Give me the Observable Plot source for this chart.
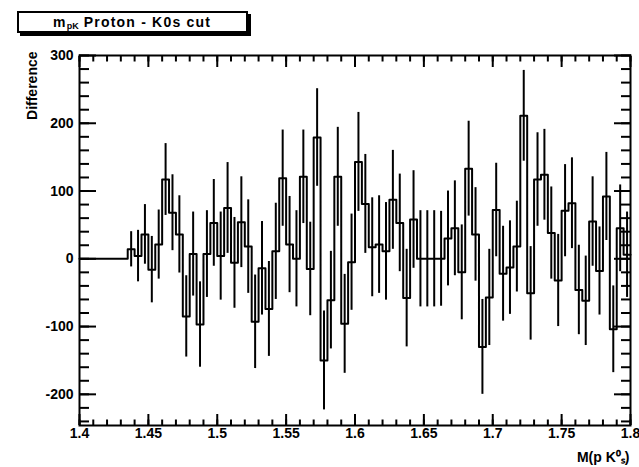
<!DOCTYPE html>
<html><head><meta charset="utf-8">
<script src="https://cdn.jsdelivr.net/npm/d3@7"></script>
<script src="https://cdn.jsdelivr.net/npm/@observablehq/plot@0.6"></script>
<style>
body{margin:0;background:#fff;}
#wrap{position:relative;width:639px;height:467px;}
#title{position:absolute;left:17px;top:11px;width:227px;height:18px;border:2px solid #000;box-shadow:3px 3px 0 #000;background:#fff;font:bold 14px "Liberation Sans",Arial,sans-serif;line-height:18px;text-align:left;padding-left:0;color:#000;z-index:2;letter-spacing:1.2px;white-space:nowrap;}
#title span{position:absolute;left:34px;}
#title sub{font-size:9px;vertical-align:-2px;letter-spacing:0;}
</style></head><body><div id="wrap"><div id="title"><span>m<sub>pK</sub> Proton - K0s cut</span></div><div id="chart"></div></div>
<script>
// histogram: 80 bins of width 0.005 from 1.4 to 1.8
const binStart = 1.4;
const binWidth = 0.005;
const counts = [0,0,0,0,0,0,0,
  14,4,36,-16,21,117,68,36,-85,7,-97,7,53,4,75,-6,54,18,-93,-14,-74,11,119,21,0,121,-15,179,-150,-61,
  121,-96,-5,143,81,17,21,11,87,53,-58,58,0,0,0,0,30,45,-20,133,36,-130,-57,72,-22,-13,18,211,-51,117,
  124,38,-32,71,82,-46,-62,55,-18,92,-104,45,6];
const errors = [0,0,0,0,0,0,0,
  26,38,44,49,51,53,56,57,60,62,63,64,64,65,67,67,67,69,69,69,70,71,71,71,71,69,69,72,73,72,
  73,73,71,73,73,73,72,72,73,72,72,72,71,71,71,70,70,70,70,70,69,70,71,69,70,69,67,67,69,69,
  67,68,68,68,67,66,66,66,65,65,64,64,63];
const xTicks = [1.4,1.45,1.5,1.55,1.6,1.65,1.7,1.75,1.8];
const xTickLabels = ["1.4","1.45","1.5","1.55","1.6","1.65","1.7","1.75","1.8"];
const yTicks = [-200,-100,0,100,200,300];
const yTickLabels = ["-200","-100","0","100","200","300"];
const titleX = "M(p K\u2070\u209B)";
const titleY = "Difference";

const bins = counts.map((v, i) => ({
  x0: binStart + i * binWidth,
  xc: binStart + (i + 0.5) * binWidth,
  v, e: errors[i]
}));
const steps = bins.map(b => ({x: b.x0, y: b.v}));
steps.push({x: binStart + counts.length * binWidth, y: counts[counts.length - 1]});
const xMinor = d3.range(0, 41).map(k => 1.4 + k * 0.01);
const yMinor = d3.range(-12, 16).map(k => k * 20);

const font = {fontSize: 14, fontWeight: "bold"};
const chart = Plot.plot({
  width: 639, height: 467,
  marginLeft: 79, marginRight: 9, marginTop: 55, marginBottom: 42,
  style: {fontFamily: "Liberation Sans, Arial, sans-serif", fontSize: "14px", fontWeight: "bold", color: "#000", background: "#fff", overflow: "visible"},
  x: {domain: [1.4, 1.8]},
  y: {domain: [-246, 300]},
  marks: [
    Plot.line(steps, {x: "x", y: "y", curve: "step-after", stroke: "#000", strokeWidth: 2}),
    Plot.ruleX(bins.filter(b => b.e > 0), {x: "xc", y1: b => b.v - b.e, y2: b => b.v + b.e, stroke: "#000", strokeWidth: 2}),
    Plot.axisX(xTicks, {anchor: "bottom", tickSize: -11, tickPadding: 14, strokeWidth: 2, tickFormat: d => xTickLabels[xTicks.indexOf(d)], label: null, ...font}),
    Plot.axisX(xMinor, {anchor: "bottom", tickSize: -5.5, strokeWidth: 2, tickFormat: () => "", label: null}),
    Plot.axisX(xTicks, {anchor: "top", tickSize: -11, strokeWidth: 2, tickFormat: () => "", label: null}),
    Plot.axisX(xMinor, {anchor: "top", tickSize: -5.5, strokeWidth: 2, tickFormat: () => "", label: null}),
    Plot.axisY(yTicks, {anchor: "left", tickSize: -17, tickPadding: 23, strokeWidth: 2, tickFormat: d => yTickLabels[yTicks.indexOf(d)], label: null, ...font}),
    Plot.axisY(yMinor, {anchor: "left", tickSize: -10, strokeWidth: 2, tickFormat: () => "", label: null}),
    Plot.axisY(yTicks, {anchor: "right", tickSize: -17, strokeWidth: 2, tickFormat: () => "", label: null}),
    Plot.axisY(yMinor, {anchor: "right", tickSize: -10, strokeWidth: 2, tickFormat: () => "", label: null}),
    Plot.frame({stroke: "#000", strokeWidth: 2}),
    Plot.text([titleY], {text: d => d, frameAnchor: "top-left", rotate: -90, textAnchor: "end", dx: -52, dy: -4, ...font}),
    Plot.text([titleX], {text: d => d, frameAnchor: "bottom-right", textAnchor: "end", lineAnchor: "bottom", dx: -1, dy: 36, ...font})
  ]
});
document.getElementById("chart").appendChild(chart);
</script></body></html>
